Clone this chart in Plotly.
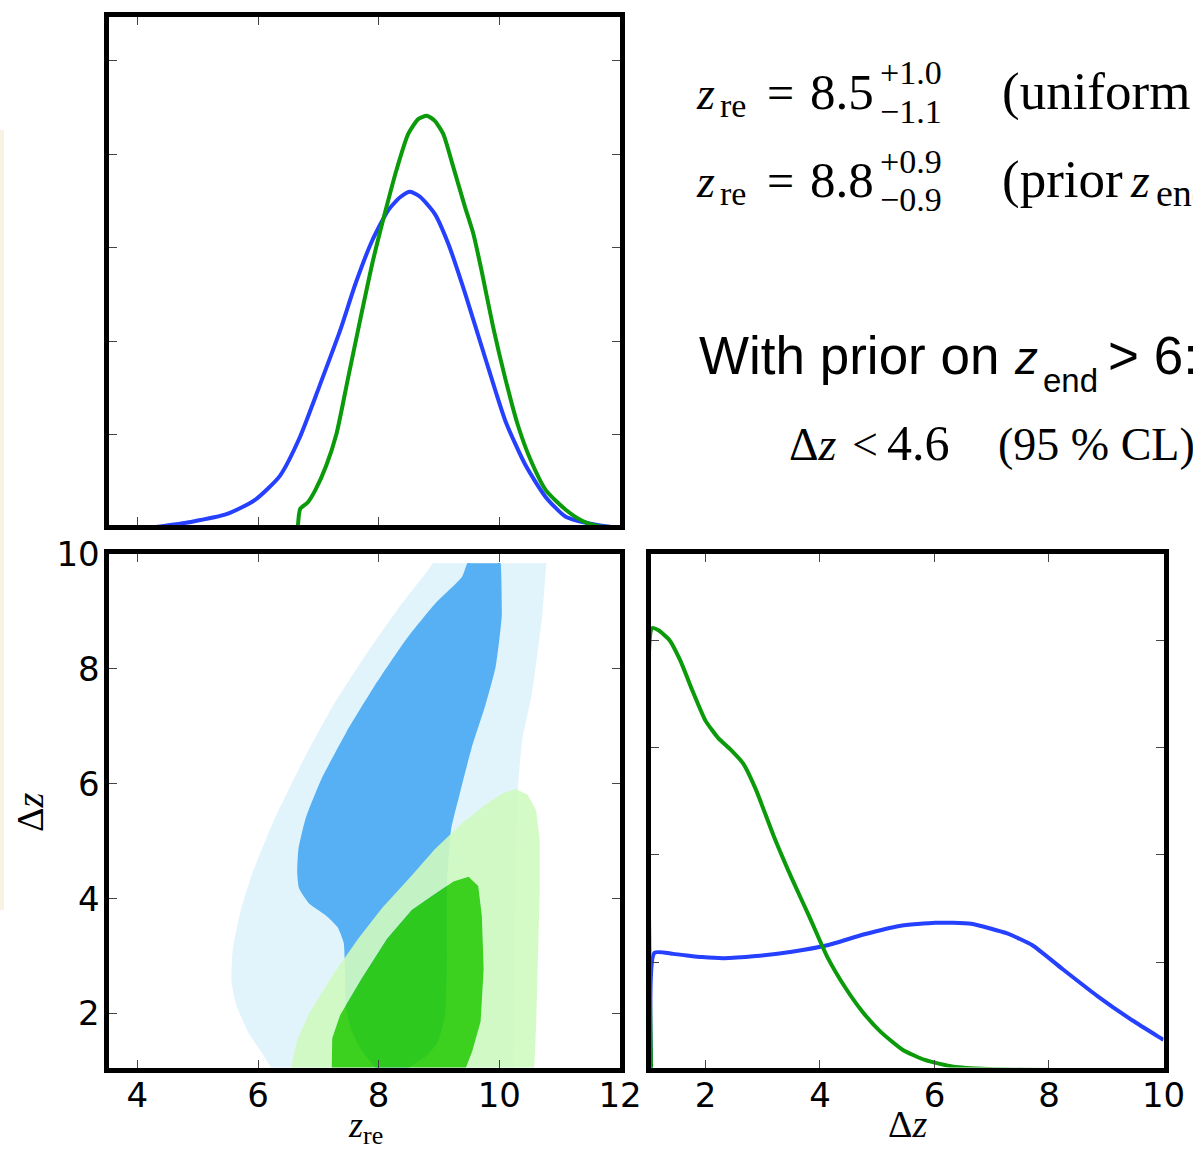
import plotly.graph_objects as go

W, H = 1193, 1149

# ---------------- data ----------------
# 1D posterior of z_re (top-left panel)
zre_uniform = [4.18, 4.89, 5.49, 5.95, 6.36, 6.69, 7.02, 7.36, 7.62, 7.89, 8.16, 8.36, 8.52,
               8.69, 8.93, 9.16, 9.43, 9.77, 10.10, 10.44, 10.77, 11.10, 11.51, 11.87, 12.0]
p_zre_uniform = [0.0, 0.013, 0.030, 0.060, 0.111, 0.193, 0.304, 0.422, 0.524, 0.614, 0.680, 0.708,
                 0.719, 0.708, 0.672, 0.606, 0.503, 0.362, 0.229, 0.133, 0.066, 0.024, 0.009, 0.002, 0.001]
zre_prior = [6.66, 6.70, 6.82, 6.95, 7.13, 7.30, 7.49, 7.69, 7.90, 8.10, 8.30, 8.49, 8.66, 8.80,
             8.93, 9.07, 9.23, 9.43, 9.57, 9.70, 9.90, 10.10, 10.30, 10.51, 10.77, 11.10, 11.38,
             11.64, 11.90, 12.0]
p_zre_prior = [0.0, 0.041, 0.054, 0.081, 0.133, 0.201, 0.319, 0.443, 0.569, 0.672, 0.768, 0.843,
               0.875, 0.882, 0.871, 0.843, 0.775, 0.687, 0.629, 0.554, 0.428, 0.319, 0.223, 0.148,
               0.081, 0.039, 0.015, 0.004, 0.002, 0.001]

# 1D posterior of Delta z (bottom-right panel)
dz_uniform = [1.05, 1.11, 1.44, 1.94, 2.32, 2.88, 3.51, 4.13, 4.76, 5.39, 6.01, 6.64, 7.27,
              7.71, 8.21, 8.84, 9.46, 9.97, 10.0]
p_dz_uniform = [0.0, 1.09, 1.08, 1.05, 1.04, 1.06, 1.10, 1.16, 1.26, 1.34, 1.37, 1.36, 1.27,
                1.16, 0.95, 0.69, 0.46, 0.29, 0.28]
dz_prior = [1.05, 1.07, 1.18, 1.37, 1.56, 1.78, 2.00, 2.22, 2.44, 2.66, 2.88, 3.19, 3.51, 3.82,
            4.13, 4.45, 4.76, 5.07, 5.45, 5.83, 6.33, 6.95, 7.60, 8.20]
p_dz_prior = [0.0, 4.11, 4.09, 4.00, 3.81, 3.52, 3.25, 3.09, 2.98, 2.85, 2.61, 2.18, 1.78, 1.42,
              1.05, 0.76, 0.53, 0.35, 0.186, 0.093, 0.031, 0.009, 0.002, 0.0]

# 2D credible regions (z_re, Delta z), bottom-left panel
blue95_zre = [8.90, 8.88, 8.73, 8.33, 7.79, 7.25, 6.72, 6.25, 5.91, 5.71, 5.58, 5.56, 5.64, 5.84,
              6.05, 6.21, 6.28, 10.24, 10.24, 10.27, 10.31, 10.38, 10.54, 10.71, 10.775, 10.78,
              10.72, 8.96, 8.90]
blue95_dz = [9.84, 9.81, 9.60, 9.06, 8.25, 7.37, 6.35, 5.33, 4.45, 3.78, 3.10, 2.56, 2.15, 1.67,
             1.34, 1.07, 0.95, 0.95, 1.07, 4.18, 5.94, 6.76, 7.57, 8.92, 9.78, 9.84,
             9.84, 9.84, 9.84]
blue68_zre = [9.47, 9.45, 9.38, 8.93, 8.46, 7.93, 7.46, 7.05, 6.79, 6.67, 6.65, 6.68, 6.85, 7.12,
              7.32, 7.42, 7.44, 7.46, 7.55, 7.72, 7.94, 8.00, 8.45, 8.51, 8.78, 8.98, 9.10, 9.13,
              9.13, 9.20, 9.34, 9.54, 9.77, 9.94, 10.04, 10.03, 10.02, 9.97, 9.52, 9.47]
blue68_dz = [9.84, 9.79, 9.60, 9.13, 8.52, 7.70, 6.89, 6.08, 5.40, 4.86, 4.45, 4.18, 3.91, 3.71,
             3.50, 3.23, 2.83, 2.10, 1.70, 1.35, 1.06, 0.95, 0.95, 1.06, 1.25, 1.50, 1.97, 2.83,
             4.18, 5.20, 5.81, 6.62, 7.37, 8.04, 8.92, 9.70, 9.84, 9.84, 9.84, 9.84]
green95_zre = [6.50, 6.55, 6.65, 6.85, 7.25, 7.66, 8.06, 8.53, 8.93, 9.40, 9.81, 10.07, 10.27,
               10.47, 10.61, 10.67, 10.67, 10.64, 10.61, 10.58, 10.57, 6.50]
green95_dz = [0.95, 1.07, 1.54, 2.01, 2.69, 3.30, 3.84, 4.38, 4.86, 5.33, 5.67, 5.84, 5.91,
              5.81, 5.54, 5.00, 4.18, 2.83, 1.81, 1.07, 0.95, 0.95]
green68_zre = [7.22, 7.22, 7.23, 7.36, 7.72, 8.14, 8.55, 8.89, 9.24, 9.49, 9.65, 9.71, 9.74,
               9.69, 9.55, 9.45, 9.42, 7.22]
green68_dz = [0.95, 1.07, 1.57, 1.97, 2.61, 3.30, 3.80, 4.05, 4.30, 4.38, 4.22, 3.70, 2.78,
              1.86, 1.34, 1.07, 0.95, 0.95]

xticks_zre = [4, 6, 8, 10, 12]
yticks_dz = [2, 4, 6, 8, 10]
xticks_dz = [2, 4, 6, 8, 10]
yticks_pzre = [0.2, 0.4, 0.6, 0.8, 1.0]
yticks_pdz = [1, 2, 3, 4]

BLUE = "#2540ff"
GREEN = "#0a9a0a"
LW = 4

fig = go.Figure()

# ---- top-left: P(z_re)
fig.add_trace(go.Scatter(x=zre_uniform, y=p_zre_uniform, mode="lines", xaxis="x", yaxis="y",
                         line=dict(color=BLUE, width=LW, shape="spline", smoothing=0.6),
                         showlegend=False, hoverinfo="skip"))
fig.add_trace(go.Scatter(x=zre_prior, y=p_zre_prior, mode="lines", xaxis="x", yaxis="y",
                         line=dict(color=GREEN, width=LW, shape="spline", smoothing=0.6),
                         showlegend=False, hoverinfo="skip"))

# ---- bottom-left: 2D regions
fig.add_trace(go.Scatter(x=blue95_zre, y=blue95_dz, mode="lines", fill="toself", xaxis="x2", yaxis="y2",
                         fillcolor="#e1f4fc", line=dict(width=0, color="rgba(0,0,0,0)", shape="spline", smoothing=0.5),
                         showlegend=False, hoverinfo="skip"))
fig.add_trace(go.Scatter(x=blue68_zre, y=blue68_dz, mode="lines", fill="toself", xaxis="x2", yaxis="y2",
                         fillcolor="#56b0f3", line=dict(width=0, color="rgba(0,0,0,0)", shape="spline", smoothing=0.5),
                         showlegend=False, hoverinfo="skip"))
# light green annulus (95% minus 68%)
ring_x = green95_zre + green68_zre[::-1]
ring_y = green95_dz + green68_dz[::-1]
fig.add_trace(go.Scatter(x=ring_x, y=ring_y, mode="lines", fill="toself", xaxis="x2", yaxis="y2",
                         fillcolor="rgba(207,250,192,0.9)", line=dict(width=0, color="rgba(0,0,0,0)"),
                         showlegend=False, hoverinfo="skip"))
fig.add_trace(go.Scatter(x=green68_zre, y=green68_dz, mode="lines", fill="toself", xaxis="x2", yaxis="y2",
                         fillcolor="rgba(42,204,7,0.9)", line=dict(width=0, color="rgba(0,0,0,0)"),
                         showlegend=False, hoverinfo="skip"))

# ---- bottom-right: P(Delta z)
fig.add_trace(go.Scatter(x=dz_uniform, y=p_dz_uniform, mode="lines", xaxis="x3", yaxis="y3",
                         line=dict(color=BLUE, width=LW, shape="spline", smoothing=0.5),
                         showlegend=False, hoverinfo="skip"))
fig.add_trace(go.Scatter(x=dz_prior, y=p_dz_prior, mode="lines", xaxis="x3", yaxis="y3",
                         line=dict(color=GREEN, width=LW, shape="spline", smoothing=0.5),
                         showlegend=False, hoverinfo="skip"))


def dx(a, b):
    return [a / W, b / W]


def dy(top, bottom):
    return [1 - bottom / H, 1 - top / H]


TICKFONT = dict(family="DejaVu Sans", size=34, color="black")
common = dict(showline=True, linewidth=5, linecolor="black", mirror="ticks", ticks="inside",
              ticklen=8, tickwidth=1, tickcolor="#444", showgrid=False, zeroline=False,
              tickfont=TICKFONT, fixedrange=True, automargin=False)

fig.update_layout(
    width=W, height=H, autosize=False,
    margin=dict(l=0, r=0, t=0, b=0, pad=0, autoexpand=False),
    paper_bgcolor="white", plot_bgcolor="rgba(0,0,0,0)",
    xaxis=dict(domain=dx(108.5, 620), range=[3.522, 12.0], anchor="y", tickvals=xticks_zre,
               showticklabels=False, **common),
    yaxis=dict(domain=dy(16.8, 525), range=[0.0064, 1.0935], anchor="x", tickvals=yticks_pzre,
               showticklabels=False, **common),
    xaxis2=dict(domain=dx(108.5, 620), range=[3.522, 12.0], anchor="y2", tickvals=xticks_zre,
                ticktext=[str(v) for v in xticks_zre], ticklabelstandoff=-6, **common),
    yaxis2=dict(domain=dy(554, 1067.5), range=[1.06, 10.0], anchor="x2", tickvals=yticks_dz,
                ticktext=[str(v) for v in yticks_dz], ticklabelstandoff=-3, **common),
    xaxis3=dict(domain=dx(650.7, 1163.5), range=[1.044, 10.0], anchor="y3", tickvals=xticks_dz,
                ticktext=[str(v) for v in xticks_dz], ticklabelstandoff=-6, **common),
    yaxis3=dict(domain=dy(554, 1067.5), range=[0.023, 4.80], anchor="x3", tickvals=yticks_pdz,
                showticklabels=False, **common),
    # full-page overlay used only to place (and clip at the page edge) the summary text
    xaxis4=dict(domain=[0, 1], range=[0, W], anchor="y4", visible=False, fixedrange=True),
    yaxis4=dict(domain=[0, 1], range=[H, 0], anchor="x4", visible=False, fixedrange=True),
)

SERIF = "Liberation Serif"
SANS = "Liberation Sans"

# summary text pieces: (text, left x, baseline y, size, family)
summary = [
    ("<i>z</i>", 697, 109, 46, SERIF), ("re", 720, 117, 34, SERIF), ("=", 767, 109, 48, SERIF),
    ("8.5", 810, 109, 51, SERIF), ("+1.0", 880, 84, 34, SERIF), ("\u22121.1", 880, 123, 34, SERIF),
    ("(uniform prior)", 1002, 109, 53, SERIF),
    ("<i>z</i>", 697, 197, 46, SERIF), ("re", 720, 205, 34, SERIF), ("=", 767, 197, 48, SERIF),
    ("8.8", 810, 197, 51, SERIF), ("+0.9", 880, 173, 34, SERIF), ("\u22120.9", 880, 211, 34, SERIF),
    ("(prior", 1002, 197, 53, SERIF), ("<i>z</i>", 1131, 197, 48, SERIF), ("end > 6)", 1156, 206, 38, SERIF),
    ("With prior on", 699, 374, 53, SANS), ("<i>z</i>", 1015, 374, 46, SANS),
    ("end", 1043, 392, 33, SANS), ("> 6:", 1108, 374, 53, SANS),
    ("\u0394<i>z</i>", 789, 460, 46, SERIF), ("<", 852, 460, 46, SERIF), ("4.6", 887, 460, 50, SERIF),
    ("(95 % CL)", 998, 460, 46, SERIF),
]
s_text = [s[0] for s in summary]
s_x = [s[1] for s in summary]
s_y = [s[2] - 0.25 * s[3] for s in summary]
fig.add_trace(go.Scatter(x=s_x, y=s_y, text=s_text, mode="text", textposition="middle right",
                         textfont=dict(family=[s[4] for s in summary], size=[s[3] for s in summary],
                                       color="black"),
                         xaxis="x4", yaxis="y4", cliponaxis=True, showlegend=False, hoverinfo="skip"))

ann = []


def txt(s, x, baseline, size, family=SERIF, k=0.3375):
    ann.append(dict(text=s, x=x / W, y=1 - (baseline - k * size) / H, xref="paper", yref="paper",
                    xanchor="left", yanchor="middle", showarrow=False,
                    font=dict(family=family, size=size, color="black")))


# axis titles
txt("<i>z</i>", 346, 1137, 36)
txt("re", 361, 1144, 26)
txt("\u0394<i>z</i>", 886, 1137, 38)
ann.append(dict(text="\u0394<i>z</i>", x=30 / W, y=1 - 812 / H, xref="paper", yref="paper",
                xanchor="center", yanchor="middle", showarrow=False, textangle=-90,
                font=dict(family=SERIF, size=38, color="black")))

fig.update_layout(annotations=ann)

# faint strip of the underlying slide at the very left edge
fig.add_shape(type="rect", xref="paper", yref="paper", x0=0, x1=4 / W, y0=1 - 910 / H, y1=1 - 130 / H,
              fillcolor="rgba(238,226,190,0.45)", line=dict(width=0), layer="below")

fig.write_html("out.html")
